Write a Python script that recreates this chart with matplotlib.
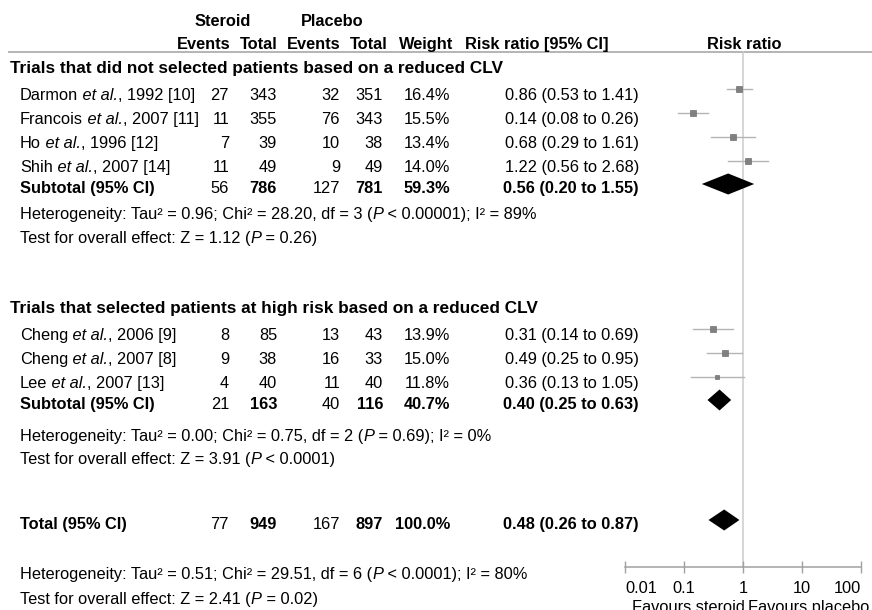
import numpy as np
import matplotlib
matplotlib.use('Agg')
import matplotlib.pyplot as plt
from matplotlib.ticker import NullLocator

plt.rcParams['font.family'] = 'Liberation Sans'

# ---- data ----
group_titles = ["Trials that did not selected patients based on a reduced CLV",
                "Trials that selected patients at high risk based on a reduced CLV"]

# study names as (author, year/ref); "et al." is set in italics between them
authors_a = ["Darmon", "Francois", "Ho", "Shih"]
refs_a = [", 1992 [10]", ", 2007 [11]", ", 1996 [12]", ", 2007 [14]"]
ev_ster_a = [27, 11, 7, 11]
tot_ster_a = [343, 355, 39, 49]
ev_plac_a = [32, 76, 10, 9]
tot_plac_a = [351, 343, 38, 49]
weight_a = [16.4, 15.5, 13.4, 14.0]
rr_a = [0.86, 0.14, 0.68, 1.22]
lo_a = [0.53, 0.08, 0.29, 0.56]
hi_a = [1.41, 0.26, 1.61, 2.68]
sub_a = [56, 786, 127, 781, 59.3, 0.56, 0.20, 1.55]
het_a = ["Heterogeneity: Tau² = 0.96; Chi² = 28.20, df = 3 (", "P", " < 0.00001); I² = 89%"]
test_a = ["Test for overall effect: Z = 1.12 (", "P", " = 0.26)"]

authors_b = ["Cheng", "Cheng", "Lee"]
refs_b = [", 2006 [9]", ", 2007 [8]", ", 2007 [13]"]
ev_ster_b = [8, 9, 4]
tot_ster_b = [85, 38, 40]
ev_plac_b = [13, 16, 11]
tot_plac_b = [43, 33, 40]
weight_b = [13.9, 15.0, 11.8]
rr_b = [0.31, 0.49, 0.36]
lo_b = [0.14, 0.25, 0.13]
hi_b = [0.69, 0.95, 1.05]
sub_b = [21, 163, 40, 116, 40.7, 0.40, 0.25, 0.63]
het_b = ["Heterogeneity: Tau² = 0.00; Chi² = 0.75, df = 2 (", "P", " = 0.69); I² = 0%"]
test_b = ["Test for overall effect: Z = 3.91 (", "P", " < 0.0001)"]

total = [77, 949, 167, 897, 100.0, 0.48, 0.26, 0.87]
het_t = ["Heterogeneity: Tau² = 0.51; Chi² = 29.51, df = 6 (", "P", " < 0.0001); I² = 80%"]
test_t = ["Test for overall effect: Z = 2.41 (", "P", " = 0.02)"]

tick_vals = [0.01, 0.1, 1, 10, 100]
tick_labels = ["0.01", "0.1", "1", "10", "100"]

# ---- layout (pixels) ----
FS = 11.8
CAP = 5.9          # half cap height in px, to place baselines
W, H = 872, 610
X_NAME, X_TITLE = 20, 10
X_EVS, X_TOTS, X_EVP, X_TOTP, X_W, X_CI = 229, 277, 340, 383, 450, 639

rows_a = [89, 113, 137, 161]
rows_b = [329, 353, 377]

fig = plt.figure(figsize=(W / 100, H / 100), dpi=100)
ax_t = fig.add_axes([0, 0, 1, 1])
ax_t.set_xlim(0, W)
ax_t.set_ylim(H, 0)
ax_t.axis('off')

ax_f = fig.add_axes([625 / W, 0, (861 - 625) / W, 1])
ax_f.set_xscale('log')
ax_f.set_xlim(0.01, 100)
ax_f.set_ylim(H, 0)
ax_f.patch.set_visible(False)


def put(x, yc, s, ha='left', bold=False, size=FS):
    return ax_t.text(x, yc + CAP, s, ha=ha, va='baseline', fontsize=size,
                     fontweight='bold' if bold else 'normal', color='black')


def rich(x, yc, parts):
    # alternate upright / italic pieces, chained one after the other
    t = put(x, yc, parts[0])
    for i, p in enumerate(parts[1:], start=1):
        t = ax_t.annotate(p, xy=(1, 0), xycoords=t, ha='left', va='bottom',
                          fontsize=FS, style='italic' if i % 2 else 'normal')
    return t


def ci_str(r, l, h):
    return f"{r:.2f} ({l:.2f} to {h:.2f})"


# headers
put(223, 20, "Steroid", ha='center', bold=True)
put(332, 20, "Placebo", ha='center', bold=True)
put(230, 43, "Events", ha='right', bold=True)
put(278, 43, "Total", ha='right', bold=True)
put(340, 43, "Events", ha='right', bold=True)
put(388, 43, "Total", ha='right', bold=True)
put(453, 43, "Weight", ha='right', bold=True)
put(465, 43, "Risk ratio [95% CI]", bold=True)
put(744, 43, "Risk ratio", ha='center', bold=True)
ax_t.plot([8, W], [51.5, 51.5], color='#a8a8a8', lw=1.2, solid_capstyle='butt')


def study_rows(authors, refs, evs, tots, evp, totp, wts, rr, lo, hi, ys):
    for i, y in enumerate(ys):
        yc = y + 5.5
        rich(X_NAME, yc, [authors[i], " et al.", refs[i]])
        put(X_EVS, yc, str(evs[i]), ha='right')
        put(X_TOTS, yc, str(tots[i]), ha='right')
        put(X_EVP, yc, str(evp[i]), ha='right')
        put(X_TOTP, yc, str(totp[i]), ha='right')
        put(X_W, yc, f"{wts[i]:.1f}%", ha='right')
        put(X_CI, yc, ci_str(rr[i], lo[i], hi[i]), ha='right')
        ax_f.plot([lo[i], hi[i]], [y, y], color='#b4b4b4', lw=1.0, zorder=2)
        ax_f.plot([rr[i]], [y], marker='s', ms=0.42 * wts[i] * 0.72,
                  color='#808080', mec='#707070', mew=0.5, zorder=3)


def summary_row(label, vals, y):
    yc = y + 3
    put(X_NAME, yc, label, bold=True)
    put(X_EVS, yc, str(vals[0]), ha='right')
    put(X_TOTS, yc, str(vals[1]), ha='right', bold=True)
    put(X_EVP, yc, str(vals[2]), ha='right')
    put(X_TOTP, yc, str(vals[3]), ha='right', bold=True)
    put(X_W, yc, f"{vals[4]:.1f}%", ha='right', bold=True)
    put(X_CI, yc, ci_str(vals[5], vals[6], vals[7]), ha='right', bold=True)
    r, l, h = vals[5], vals[6], vals[7]
    ax_f.fill([l, r, h, r], [y, y - 10.5, y, y + 10.5], color='black', lw=0, zorder=3)


# group A
put(X_TITLE, 67.5, group_titles[0], bold=True, size=12.4)
study_rows(authors_a, refs_a, ev_ster_a, tot_ster_a, ev_plac_a, tot_plac_a, weight_a,
           rr_a, lo_a, hi_a, rows_a)
summary_row("Subtotal (95% CI)", sub_a, 184)
rich(X_NAME, 213, het_a)
rich(X_NAME, 237, test_a)

# group B
put(X_TITLE, 307, group_titles[1], bold=True, size=12.4)
study_rows(authors_b, refs_b, ev_ster_b, tot_ster_b, ev_plac_b, tot_plac_b, weight_b,
           rr_b, lo_b, hi_b, rows_b)
summary_row("Subtotal (95% CI)", sub_b, 400)
rich(X_NAME, 435, het_b)
rich(X_NAME, 458, test_b)

# overall
summary_row("Total (95% CI)", total, 520)
rich(X_NAME, 573, het_t)
rich(X_NAME, 598, test_t)

# forest axis
ax_f.plot([1, 1], [52, 567], color='#cccccc', lw=1.1, zorder=1)
for s in ['top', 'left', 'right']:
    ax_f.spines[s].set_visible(False)
ax_f.spines['bottom'].set_position(('data', 567))
ax_f.spines['bottom'].set_color('#a0a0a0')
ax_f.spines['bottom'].set_linewidth(1.1)
ax_f.set_yticks([])
ax_f.set_xticks(tick_vals)
ax_f.xaxis.set_minor_locator(NullLocator())
ax_f.set_xticklabels([])
ax_f.tick_params(axis='x', direction='inout', length=8, width=1.0, color='#a0a0a0')
for v, lab in zip(tick_vals, tick_labels):
    ha = 'left' if v == tick_vals[0] else ('right' if v == tick_vals[-1] else 'center')
    ax_f.text(v, 587 + CAP, lab, ha=ha, va='baseline', fontsize=FS)

put(745, 606, "Favours steroid", ha='right')
put(748, 606, "Favours placebo")

fig.savefig('out.png', dpi=100)
